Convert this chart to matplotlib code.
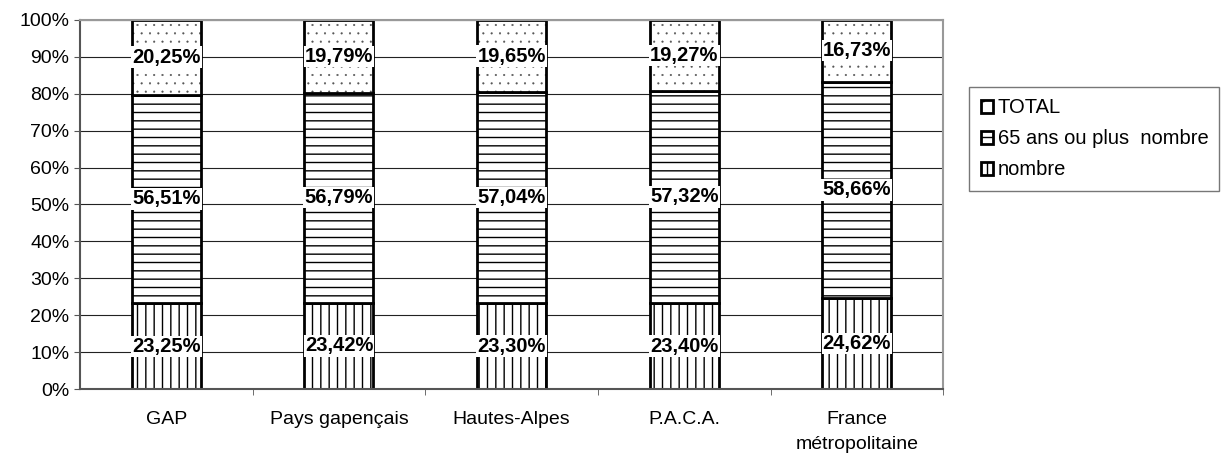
import numpy as np
import matplotlib
matplotlib.use("Agg")
import matplotlib.pyplot as plt
from matplotlib.ticker import PercentFormatter
from matplotlib.patches import Patch

categories = ["GAP", "Pays gapençais", "Hautes-Alpes", "P.A.C.A.", "France\nmétropolitaine"]
nombre = [23.25, 23.42, 23.30, 23.40, 24.62]
plus65 = [56.51, 56.79, 57.04, 57.32, 58.66]
total = [20.25, 19.79, 19.65, 19.27, 16.73]

plt.rcParams["font.family"] = ["Liberation Sans", "DejaVu Sans"]
plt.rcParams["hatch.linewidth"] = 1.0

fig = plt.figure(figsize=(12.21, 4.59), dpi=100)
ax = fig.add_axes([0.0655, 0.152, 0.707, 0.805])

x = np.arange(len(categories))
w = 0.4
bot3 = np.array(nombre) + np.array(plus65)

b1 = ax.bar(x, nombre, w, color="white", edgecolor="black", linewidth=2, hatch="||", label="nombre", zorder=2)
b2 = ax.bar(x, plus65, w, bottom=nombre, color="white", edgecolor="black", linewidth=2, hatch="--", label="65 ans ou plus  nombre", zorder=2)
# dotted top segment: small grey dots, then black outline on top
plt.rcParams["hatch.linewidth"] = 0.3
ax.bar(x, total, w, bottom=bot3, color="white", edgecolor="#555555", linewidth=0, hatch="..", zorder=2)
plt.rcParams["hatch.linewidth"] = 1.0
b3 = ax.bar(x, total, w, bottom=bot3, fill=False, edgecolor="black", linewidth=2, label="TOTAL", zorder=2)

for vals, bots in [(nombre, np.zeros(5)), (plus65, np.array(nombre)), (total, bot3)]:
    for i, v in enumerate(vals):
        ax.text(x[i], bots[i] + v / 2, ("%.2f%%" % v).replace(".", ","), ha="center", va="center",
                fontsize=14.5, fontweight="bold", zorder=3,
                bbox=dict(facecolor="white", edgecolor="none", pad=0.8))

ax.set_xlim(-0.5, 4.5)
ax.set_ylim(0, 100)
ax.set_yticks(np.arange(0, 101, 10))
ax.yaxis.set_major_formatter(PercentFormatter(decimals=0))
ax.set_xticks(x + 0.5, minor=True)
ax.set_xticks(x)
ax.set_xticklabels(categories, fontsize=14, linespacing=1.6)
ax.tick_params(axis="x", which="major", length=0, pad=16)
ax.tick_params(axis="x", which="minor", length=4, color="#555555")
ax.tick_params(axis="y", labelsize=14, length=4, color="#555555")
ax.grid(axis="y", color="#222222", linewidth=0.8, zorder=0)
ax.set_axisbelow(True)
for s in ax.spines.values():
    s.set_color("#999999")
    s.set_linewidth(1.5)
ax.spines["left"].set_color("#555555")
ax.spines["bottom"].set_color("#555555")

# legend handle with the dotted pattern
plt.rcParams["hatch.linewidth"] = 0.6
h3 = Patch(facecolor="white", edgecolor="black", linewidth=2, hatch=".", label="TOTAL")
plt.rcParams["hatch.linewidth"] = 1.0
leg = fig.legend(handles=[h3, b2, b1], loc="upper left", bbox_to_anchor=(0.794, 0.81),
                 frameon=True, fancybox=False, edgecolor="#555555", fontsize=14.5,
                 handlelength=0.6, handleheight=0.6, handletextpad=0.25, labelspacing=0.6,
                 borderpad=0.55, borderaxespad=0)
leg.get_frame().set_linewidth(1.0)

fig.savefig("out.png", dpi=100)
